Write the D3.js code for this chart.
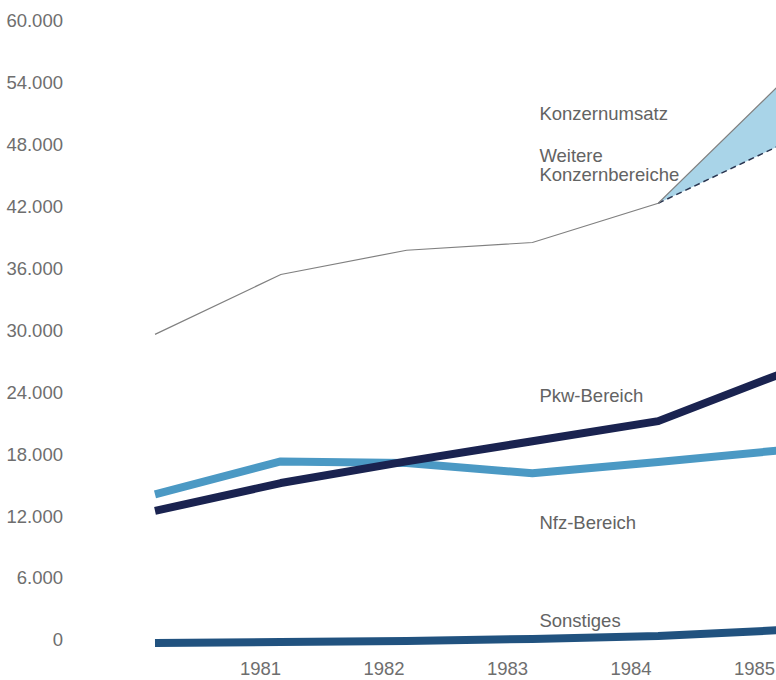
<!DOCTYPE html>
<html>
<head>
<meta charset="utf-8">
<script src="https://cdn.jsdelivr.net/npm/d3@7"></script>
<style>
  body { margin: 0; background: #fff; }
  svg { display: block; font-family: "Liberation Sans", Arial, sans-serif; }
</style>
</head>
<body>
<svg id="chart" width="776" height="680"></svg>
<script>
// Umsatz in Mio. DM
let years = [1980, 1981, 1982, 1983, 1984, 1985];
let konzern = [29600, 35400, 37750, 38500, 42300, 54200];
let pkw = [12500, 15200, 17300, 19250, 21200, 25900];
let nfz = [14100, 17300, 17150, 16150, 17250, 18400];
let sonstiges = [-290, -190, -100, 100, 390, 970];
let weitereYears = [1984, 1985];
let weitereUnten = [42300, 48100];
let yTicks = [0, 6000, 12000, 18000, 24000, 30000, 36000, 42000, 48000, 54000, 60000];
let yearLabels = [1981, 1982, 1983, 1984, 1985];

let labels = [
  { text: "Konzernumsatz", value: 51000 },
  { text: "Weitere", value: 46950 },
  { text: "Konzernbereiche", value: 45050 },
  { text: "Pkw-Bereich", value: 23700 },
  { text: "Nfz-Bereich", value: 11350 },
  { text: "Sonstiges", value: 1850 }
];

const svg = d3.select("#chart");

const x = d3.scaleLinear().domain([1980, 1985]).range([155, 784]);
const y = d3.scaleLinear().domain([0, 60000]).range([640, 20.5]);
// Jahresbeschriftungen sitzen etwas links der Stuetzpunkte
const xLabel = d3.scaleLinear().domain([1981, 1985]).range([260, 754]);

const de = d3.formatLocale({ decimal: ",", thousands: ".", grouping: [3], currency: ["", " DM"] });
const fmt = de.format(",");

// y-Achse
const yAxis = svg.append("g")
  .attr("transform", "translate(63,0)")
  .call(d3.axisLeft(y).tickValues(yTicks).tickFormat(fmt).tickSize(0).tickPadding(0));
yAxis.select(".domain").remove();
yAxis.selectAll("text")
  .attr("fill", "#6e6e6e")
  .style("font-size", "18.5px")
  .style("font-family", "'Liberation Sans', Arial, sans-serif");

// x-Achse
const xAxis = svg.append("g")
  .attr("transform", "translate(0,675)")
  .call(d3.axisBottom(xLabel).tickValues(yearLabels).tickFormat(d3.format("d")).tickSize(0).tickPadding(0));
xAxis.select(".domain").remove();
xAxis.selectAll("text")
  .attr("dy", null)
  .attr("y", 0)
  .attr("fill", "#6e6e6e")
  .style("font-size", "18.5px")
  .style("font-family", "'Liberation Sans', Arial, sans-serif");

const line = d3.line().x((d, i) => x(years[i])).y(d => y(d));

// Flaeche weitere Konzernbereiche
const band = weitereYears.map((yr, i) => ({ yr, lo: weitereUnten[i], hi: konzern[years.indexOf(yr)] }));
svg.append("path")
  .datum(band)
  .attr("fill", "#a9d4e8")
  .attr("d", d3.area().x(d => x(d.yr)).y0(d => y(d.lo)).y1(d => y(d.hi)));

svg.append("path")
  .datum(band)
  .attr("fill", "none")
  .attr("stroke", "#2a3550")
  .attr("stroke-width", 1.5)
  .attr("stroke-dasharray", "6,4")
  .attr("d", d3.line().x(d => x(d.yr)).y(d => y(d.lo)));

svg.append("path")
  .datum(konzern)
  .attr("fill", "none")
  .attr("stroke", "#808080")
  .attr("stroke-width", 1.2)
  .attr("d", line);

svg.append("path")
  .datum(sonstiges)
  .attr("fill", "none")
  .attr("stroke", "#21527f")
  .attr("stroke-width", 8)
  .attr("stroke-linejoin", "round")
  .attr("d", line);

svg.append("path")
  .datum(nfz)
  .attr("fill", "none")
  .attr("stroke", "#4b99c4")
  .attr("stroke-width", 8)
  .attr("stroke-linejoin", "round")
  .attr("d", line);

svg.append("path")
  .datum(pkw)
  .attr("fill", "none")
  .attr("stroke", "#1a2350")
  .attr("stroke-width", 8)
  .attr("stroke-linejoin", "round")
  .attr("d", line);

// Beschriftungen
svg.append("g").selectAll("text")
  .data(labels)
  .join("text")
  .attr("x", x(1983) + 7)
  .attr("y", d => y(d.value))
  .attr("dy", "0.35em")
  .attr("fill", "#636363")
  .style("font-size", "18.5px")
  .text(d => d.text);
</script>
</body>
</html>
